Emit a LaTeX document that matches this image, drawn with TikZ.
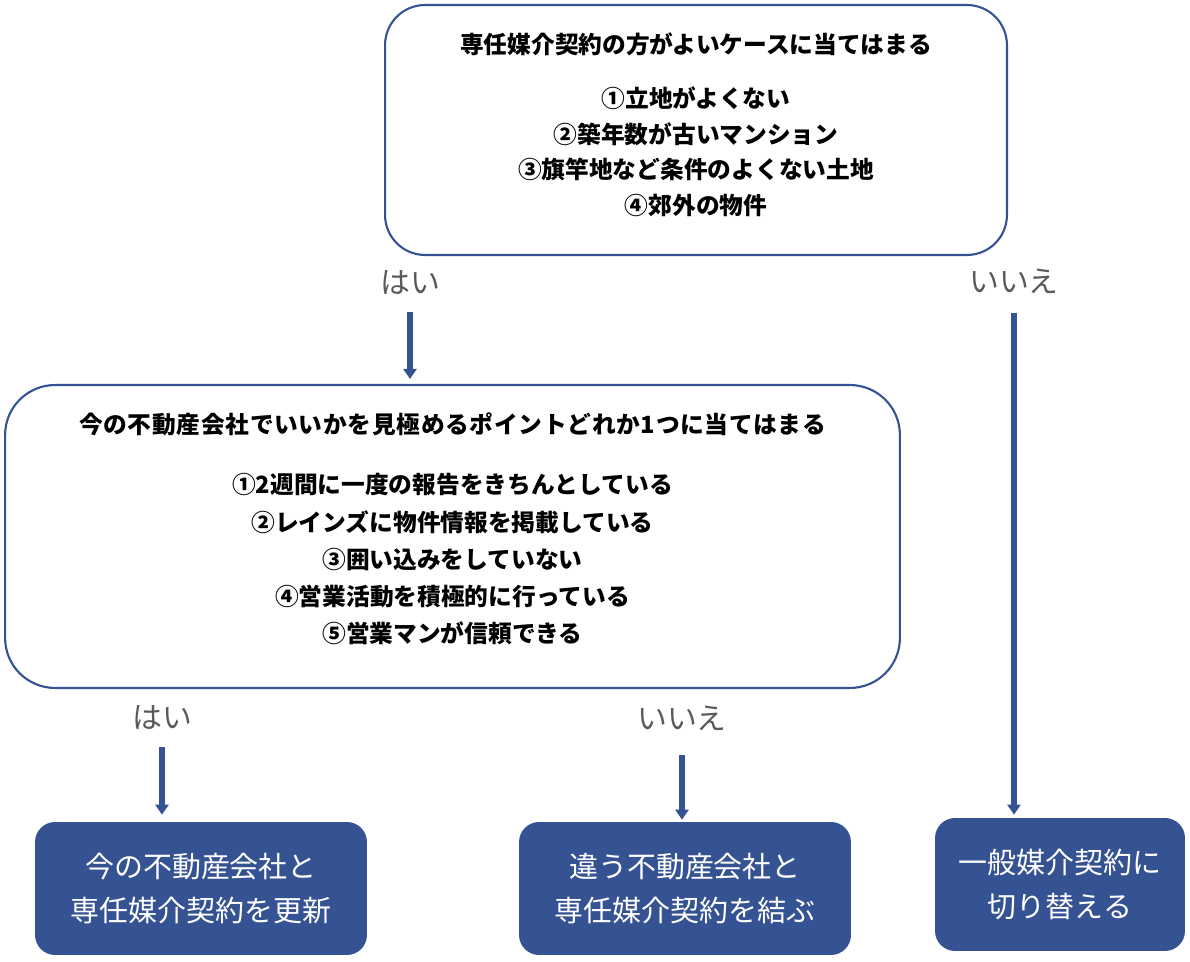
\documentclass[tikz,border=0pt]{standalone}
\usepackage{fontspec}
\setmainfont{Noto Sans CJK JP}
\usetikzlibrary{arrows.meta, positioning}

\definecolor{boxblue}{HTML}{355293}
\definecolor{labelgray}{HTML}{595959}

\begin{document}
\begin{tikzpicture}[x = 0.02cm, y = -0.02cm,
		question/.style = {draw = boxblue, line width = 1.2pt, rounded corners = 0.8cm, align = center, font = \fontsize{13.5}{20.3}\selectfont\bfseries},
		result/.style = {fill = boxblue, rounded corners = 0.4cm, text = white, align = center, minimum width = 6.64cm, minimum height = 2.66cm, font = \fontsize{16.5}{25}\selectfont},
		answer/.style = {text = labelgray, font = \fontsize{17}{20}\selectfont},
		flow/.style = {-{Triangle[width = 0.26cm, length = 0.2cm]}, boxblue, line width = 3.4pt}]
		
		%frame of the picture
		\useasboundingbox (0,0) rectangle (1190,962);
		
		%questions
		\node [question, minimum width = 12.44cm, minimum height = 5cm] (case) at (696,130) {専任媒介契約の方がよいケースに当てはまる\\[10.5pt]
			①立地がよくない\\ ②築年数が古いマンション\\ ③旗竿地など条件のよくない土地\\ ④郊外の物件\\[-13pt]\mbox{}};
		\node [question, minimum width = 17.9cm, minimum height = 6.06cm, rounded corners = 1cm, font = \fontsize{13.5}{21.2}\selectfont\bfseries] (check) at (452.5,536.5) {\addfontfeature{LetterSpace=3}今の不動産会社でいいかを見極めるポイントどれか1つに当てはまる\\[13pt]
			①2週間に一度の報告をきちんとしている\\ ②レインズに物件情報を掲載している\\ ③囲い込みをしていない\\ ④営業活動を積極的に行っている\\ ⑤営業マンが信頼できる\\[-11.5pt]\mbox{}};
		
		%results
		\node [result] (renew) at (201,888.5) {今の不動産会社と\\専任媒介契約を更新};
		\node [result] (switch) at (685,888.5) {違う不動産会社と\\専任媒介契約を結ぶ};
		\node [result, minimum width = 5cm] (general) at (1060,884.5) {一般媒介契約に\\切り替える};
		
		%answers
		\node [answer] (yes1) at (410,283) {はい};
		\node [answer] (no1) at (1014,281) {いいえ};
		\node [answer] (yes2) at (162,718) {はい};
		\node [answer] (no2) at (682,718) {いいえ};
		
		\draw [flow, shorten <= 0.22cm, shorten >= 0.1cm] (yes1.south) -- (yes1.south |- check.north);
		\draw [flow, shorten <= 0.26cm, shorten >= 0.06cm] (no1.south) -- (no1.south |- general.north);
		\draw [flow, shorten <= 0.22cm, shorten >= 0.14cm] (yes2.south) -- (yes2.south |- renew.north);
		\draw [flow, shorten <= 0.36cm, shorten >= 0.04cm] (no2.south) -- (no2.south |- switch.north);
	\end{tikzpicture}
\end{document}
